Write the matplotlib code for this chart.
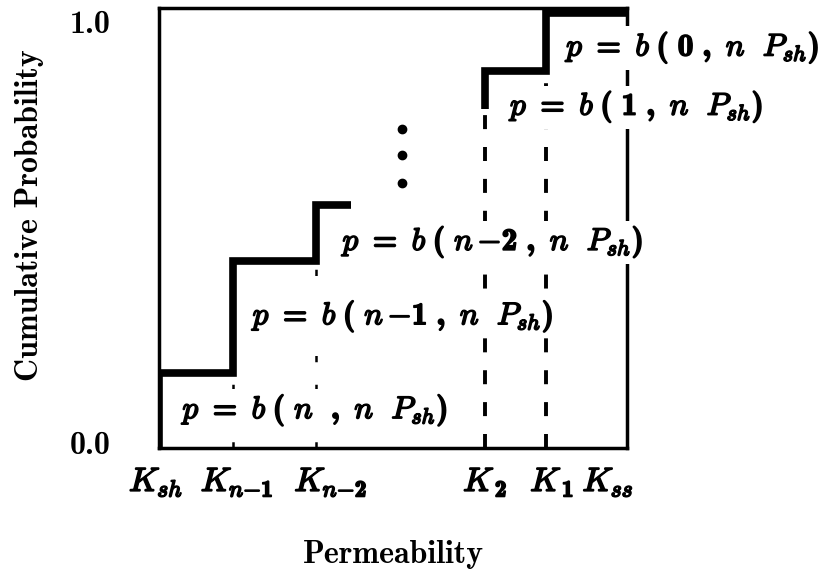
import matplotlib

matplotlib.use("Agg")
import matplotlib.pyplot as plt
import matplotlib.patheffects as pe
import matplotlib.transforms as mtransforms

# Computer Modern look: bold roman text, math italic for the symbols
plt.rcParams["font.family"] = "cmb10"
plt.rcParams["mathtext.fontset"] = "custom"
plt.rcParams["mathtext.rm"] = "cmb10"
plt.rcParams["mathtext.it"] = "cmmi10"
plt.rcParams["mathtext.bf"] = "cmb10"
plt.rcParams["axes.unicode_minus"] = False

# permeability positions (schematic, K_sh = 0 ... K_ss = 1)
k_ticks = [0.0, 0.158, 0.335, 0.697, 0.827, 1.0]
k_labels = [r"$K_{sh}$", r"$K_{n{-}1}$", r"$K_{n{-}2}$",
            r"$K_{\,2}$", r"$K_{\,1}$", r"$K_{ss}$"]

# lower part of the staircase: K_sh, K_n-1, K_n-2 and where it trails off
low_x = [0.0, 0.158, 0.335, 0.41]
low_cum = [0.0, 0.173, 0.43, 0.56]
# upper part: K_2, K_1, K_ss
high_x = [0.697, 0.827, 1.0]
high_cum = [0.78, 0.866, 1.0]

# elided middle steps
dots_x = [0.519, 0.519, 0.519]
dots_y = [0.609, 0.673, 0.734]

# dashed guides below each step
guide_x = [0.158, 0.335, 0.697, 0.827]
guide_top = [0.173, 0.43, 0.78, 0.866]

prob_labels = [r"$p\ =\ b\;(\ 0\ ,\ n\ \ P_{sh})$",
               r"$p\ =\ b\;(\ 1\ ,\ n\ \ P_{sh})$",
               r"$p\ =\ b\;(\ n\,{-}2\ ,\ n\ \ P_{sh})$",
               r"$p\ =\ b\;(\ n\,{-}1\ ,\ n\ \ P_{sh})$",
               r"$p\ =\ b\;(\ n\ \ ,\ n\ \ P_{sh})$"]
prob_x = [0.87, 0.75, 0.392, 0.2, 0.05]
prob_y = [0.92, 0.784, 0.473, 0.302, 0.086]

BOLD = [pe.withStroke(linewidth=1.2, foreground="black")]


def staircase(xs, ys):
    """Corner points of a post-step curve starting with a riser."""
    px, py = [], []
    for i, x in enumerate(xs[:-1]):
        px += [x, x]
        py += [ys[i], ys[i + 1]]
    px.append(xs[-1])
    py.append(ys[-1])
    return px, py


def shift(label, dx, dy):
    """Offset a tick label by (dx, dy) pixels."""
    off = mtransforms.ScaledTranslation(dx / 100, dy / 100, fig.dpi_scale_trans)
    label.set_transform(label.get_transform() + off)


fig = plt.figure(figsize=(8.21, 5.83), dpi=100)
ax = fig.add_axes([0.1937, 0.2316, 0.570, 0.7547])

# the two left guides are faint, the right ones heavier
for i, (x, top) in enumerate(zip(guide_x, guide_top)):
    if i < 2:
        ax.plot([x, x], [0, top], color="black", lw=1.8,
                dashes=(2.5, 9), zorder=1)
    else:
        ax.plot([x, x], [0, top], color="black", lw=2.8,
                dashes=(3.6, 4.6), zorder=1)

sx, sy = staircase(low_x, low_cum)
ax.plot(sx, sy, color="black", lw=5.5, solid_joinstyle="miter",
        solid_capstyle="butt", zorder=4)
hx, hy = staircase(high_x, high_cum)
ax.plot(hx, hy, color="black", lw=5.5, solid_joinstyle="miter",
        solid_capstyle="butt", zorder=4)

ax.plot(dots_x, dots_y, "o", color="black", ms=6, zorder=4)

for txt, x, y in zip(prob_labels, prob_x, prob_y):
    ax.text(x, y, txt, fontsize=22.5, ha="left", va="center", zorder=3,
            bbox=dict(facecolor="white", edgecolor="none", pad=3),
            path_effects=BOLD, clip_on=False)

ax.set_xlim(0, 1)
ax.set_ylim(0, 1.012)
ax.set_xticks(k_ticks)
ax.set_xticklabels(k_labels, fontsize=24)
ax.set_yticks([0.0, 1.0])
ax.set_yticklabels(["0.0", "1.0"], fontsize=23)
ax.tick_params(length=0)
ax.tick_params(axis="x", pad=13)
ax.tick_params(axis="y", pad=35)

for lab, dx in zip(ax.get_xticklabels(), [-3, 4, 15, 0, 6, -19]):
    lab.set_path_effects(BOLD)
    shift(lab, dx, 0)
for lab, dy in zip(ax.get_yticklabels(), [5, -8]):
    shift(lab, 0, dy)

for side in ax.spines.values():
    side.set_linewidth(2.5)

ax.set_xlabel("Permeability", fontsize=23, labelpad=30)
ax.set_ylabel("Cumulative Probability", fontsize=23)
ax.yaxis.set_label_coords(-0.246, 0.53)

fig.savefig("out.png", dpi=100)
